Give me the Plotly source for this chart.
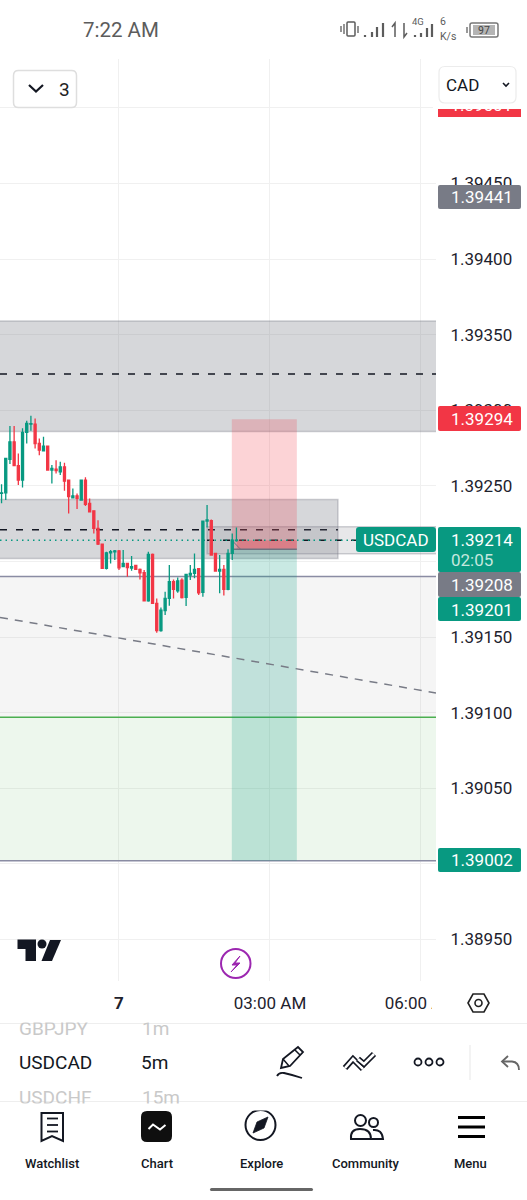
import re
import pandas as pd
import plotly.graph_objects as go

W, H = 527, 1200
GREEN, RED, GRAY, INK = "#089981", "#f23645", "#787b86", "#131722"
FONT = "Roboto"

# USDCAD 5m candles, index 0 is the 00:00 bar of the 7th
first_bar = -28
opens = [1.392450,1.392454,1.392675,1.392791,1.392633,1.392538,1.392853,1.392908,1.392908,1.392780,
         1.392732,1.392763,1.392604,1.392611,1.392593,1.392626,1.392538,1.392421,1.392434,1.392406,
         1.392538,1.392384,1.392335,1.392218,1.392115,1.391954,1.392057,1.392064,1.392070,1.391965,
         1.391987,1.391956,1.391974,1.391947,1.391925,1.391740,1.392047,1.391722,1.391542,1.391674,
         1.391755,1.391866,1.391806,1.391877,1.391762,1.391910,1.391921,1.391952,1.391795,1.392267,
         1.392269,1.392053,1.391936,1.391947,1.391815,1.392053,1.392137]
highs = [1.392511,1.392681,1.392895,1.392895,1.392714,1.392880,1.392930,1.392963,1.392946,1.392813,
         1.392824,1.392763,1.392637,1.392670,1.392659,1.392653,1.392538,1.392483,1.392450,1.392538,
         1.392556,1.392417,1.392335,1.392273,1.392115,1.392064,1.392075,1.392075,1.392075,1.392075,
         1.391987,1.392036,1.391974,1.391954,1.391943,1.392064,1.392053,1.391755,1.391696,1.391800,
         1.391976,1.391881,1.391894,1.391888,1.391914,1.391976,1.392053,1.391952,1.392267,1.392373,
         1.392278,1.392053,1.392042,1.391976,1.392080,1.392185,1.392225]
lows = [1.392384,1.392406,1.392644,1.392633,1.392505,1.392489,1.392780,1.392864,1.392747,1.392703,
        1.392732,1.392600,1.392516,1.392582,1.392571,1.392467,1.392317,1.392417,1.392346,1.392406,
        1.392366,1.392324,1.392185,1.392108,1.391954,1.391947,1.391987,1.392009,1.391943,1.391965,
        1.391899,1.391938,1.391943,1.391881,1.391740,1.391733,1.391718,1.391528,1.391535,1.391645,
        1.391707,1.391755,1.391793,1.391755,1.391705,1.391877,1.391888,1.391778,1.391767,1.392225,
        1.392038,1.391936,1.391789,1.391775,1.391810,1.392009,1.392130]
closes = [1.392454,1.392681,1.392791,1.392633,1.392538,1.392853,1.392913,1.392912,1.392780,1.392736,
          1.392763,1.392604,1.392615,1.392600,1.392626,1.392531,1.392428,1.392434,1.392417,1.392538,
          1.392377,1.392328,1.392218,1.392115,1.391954,1.392057,1.392064,1.392070,1.391958,1.391987,
          1.391960,1.391965,1.391947,1.391925,1.391740,1.392047,1.391722,1.391542,1.391678,1.391755,
          1.391866,1.391815,1.391872,1.391760,1.391914,1.391921,1.391947,1.391793,1.392267,1.392274,
          1.392042,1.391936,1.391947,1.391815,1.392053,1.392141,1.392140]

price_ticks = [1.38950, 1.39000, 1.39050, 1.39100, 1.39150, 1.39200, 1.39250,
               1.39300, 1.39350, 1.39400, 1.39450, 1.39500]
# These levels keep their grid line, their label sits behind a price tag
tag_covered_ticks = [1.39000, 1.39200, 1.39500]
time_tick_bars = [0, 36, 72]
time_tick_text = ["<b>7</b>", "03:00 AM", "06:00 AM"]

# Drawn levels
upper_zone = (1.39286, 1.39359, 1.39324)
middle_zone = (1.39202, 1.39241, 1.39221)
inner_zone = (1.39205, 1.39223, 1.39214)
stop_price, entry_price, target_price = 1.39294, 1.39208, 1.39002
last_price = 1.39214
range_line, support_line = 1.39190, 1.39097
trend_prices = (1.39163, 1.39113)
alert_price = 1.39441
top_label_price = 1.39502

# Axis windows
bar_window = (-28.37, 75.58)
price_window = (1.389225, 1.395323)
PLOT_L, PLOT_R, PLOT_T, PLOT_B = 0, 436, 59, 981

base = pd.Timestamp("2024-10-07 00:00")
def t(i):
    return (base + pd.Timedelta(minutes=5 * i)).strftime("%Y-%m-%d %H:%M:%S.%f")

bars = list(range(first_bar, first_bar + len(opens)))
shapes, notes = [], []

def px(x): return x / W
def py(y): return 1 - y / H

def pixel_path(d):
    """Turn a path written in page pixels into paper coordinates."""
    parts = re.findall(r"[MLQCZ]|-?\d+\.?\d*", d)
    out, is_x = [], True
    for p in parts:
        if p in "MLQCZ":
            out.append(p)
            is_x = True
        else:
            out.append(f"{px(float(p)):.5f}" if is_x else f"{py(float(p)):.5f}")
            is_x = not is_x
    return " ".join(out)

def path(d, fill="rgba(0,0,0,0)", line=INK, width=2, layer="above"):
    shapes.append(dict(type="path", xref="paper", yref="paper", path=pixel_path(d),
                       fillcolor=fill, line=dict(color=line, width=width), layer=layer))

def box(x0, y0, x1, y1, fill="#ffffff", line="rgba(0,0,0,0)", width=0, layer="above", kind="rect"):
    shapes.append(dict(type=kind, xref="paper", yref="paper", x0=px(x0), x1=px(x1), y0=py(y0), y1=py(y1),
                       fillcolor=fill, line=dict(color=line, width=width), layer=layer))

def rounded(x0, y0, x1, y1, r=3, **kw):
    d = (f"M {x0+r} {y0} L {x1-r} {y0} Q {x1} {y0} {x1} {y0+r} L {x1} {y1-r} Q {x1} {y1} {x1-r} {y1} "
         f"L {x0+r} {y1} Q {x0} {y1} {x0} {y1-r} L {x0} {y0+r} Q {x0} {y0} {x0+r} {y0} Z")
    path(d, **kw)

def text(s, x, y, size=13, color=INK, anchor="left", weight=400):
    notes.append(dict(text=s, xref="paper", yref="paper", x=px(x), y=py(y), xanchor=anchor, yanchor="middle",
                      showarrow=False, align=anchor, borderpad=0, font=dict(family=FONT, size=size, color=color, weight=weight)))

def zone(i0, i1, p0, p1, fill, line=None):
    shapes.append(dict(type="rect", xref="x", yref="y", x0=t(i0), x1=t(i1), y0=p0, y1=p1, fillcolor=fill,
                       line=dict(color=line or "rgba(0,0,0,0)", width=1.5 if line else 0), layer="between"))

def level(i0, i1, p0, p1, color, width=1.5, dash="solid"):
    shapes.append(dict(type="line", xref="x", yref="y", x0=t(i0), x1=t(i1), y0=p0, y1=p1,
                       line=dict(color=color, width=width, dash=dash), layer="between"))

left, right = bar_window
off_left, off_right = left - 3, right + 3   # box edges run past the pane and get clipped
zone_fill = "rgba(120,123,134,0.30)"
zone_edge = "rgba(120,123,134,0.35)"

# Range backgrounds
zone(left, right, support_line, range_line, "rgba(128,128,128,0.08)")
zone(left, right, target_price, support_line, "rgba(76,175,80,0.10)")
level(left, right, range_line, range_line, "#8a8ca3")
level(left, right, support_line, support_line, "#4caf50")
level(left, right, target_price, target_price, "#8a8ca3")

# Supply and demand boxes
zone(off_left, off_right, upper_zone[0], upper_zone[1], zone_fill, zone_edge)
level(left, right, upper_zone[2], upper_zone[2], "#131722", 1.5, "7px,9px")
zone(off_left, 52.2, middle_zone[0], middle_zone[1], zone_fill, zone_edge)
level(left, 52.2, middle_zone[2], middle_zone[2], "#131722", 1.5, "7px,9px")
zone(21, off_right, inner_zone[0], inner_zone[1], "rgba(120,123,134,0.18)", zone_edge)
level(21, 56.5, inner_zone[2], inner_zone[2], "#131722", 1.5, "7px,9px")

# Short position tool
zone(26.9, 42.4, entry_price, stop_price, "rgba(242,54,69,0.22)")
zone(26.9, 42.4, target_price, entry_price, "rgba(8,153,129,0.22)")
zone(28.1, 42.4, entry_price, last_price, "rgba(242,54,69,0.35)")
level(26.9, 42.4, entry_price, entry_price, "#6f7280", 1.5)
level(26.9, 29, last_price, entry_price, "#6f7280", 1)

# Trend line and last price
level(left, right, trend_prices[0], trend_prices[1], GRAY, 1.5, "8px,7px")
level(left, 56.5, last_price, last_price, GREEN, 1.5, "1.5px,4px")

# Clipped scale label at the top, under the currency selector
box(438, 93, 521, 117, fill=RED, layer="below")
box(433, 59.5, 527, 109)

# Time scale corner covering the end of the last time label
box(432, 983, 527, 1021)

# Price scale labels
def price_tag(x_text_lines, y0, y1, fill):
    rounded(438, y0, 521, y1, r=2, fill=fill, line=fill, width=0)
    for s, y, c in x_text_lines:
        text(s, 449.5, y, 17, c)

price_tag([(f"{alert_price:.5f}", 197, "#ffffff")], 185, 209, GRAY)
price_tag([(f"{stop_price:.5f}", 419, "#ffffff")], 406, 431, RED)
price_tag([(f"{last_price:.5f}", 540, "#ffffff"), ("02:05", 560, "#c4e8df")], 527, 572, GREEN)
price_tag([(f"{entry_price:.5f}", 585, "#ffffff")], 572, 597, GRAY)
price_tag([("1.39201", 610, "#ffffff")], 597, 621, GREEN)
price_tag([(f"{target_price:.5f}", 860, "#ffffff")], 848, 872, GREEN)
rounded(356, 527, 436, 552, r=3, fill=GREEN, line=GREEN, width=0)
text("USDCAD", 396, 540, 17, "#ffffff", "center")

# Status bar
text("7:22 AM", 82, 30, 20.5, "#5c5c5c")
sb = "#5c5c5c"
rounded(347, 22, 355, 36, r=1, line=sb, width=1.5)
for x, y0, y1 in [(341, 26, 32), (344, 24, 34), (358, 26, 33)]:
    path(f"M {x} {y0} L {x} {y1}", line=sb, width=1.3)
for x, top in [(365, 35), (372, 32), (377, 27), (383, 23)]:
    path(f"M {x} {top} L {x} 37", line=sb, width=2.2)
path("M 395 37 L 395 23 L 392 27", line=sb, width=1.5)
path("M 404 23 L 404 37 L 407 33", line=sb, width=1.5)
text("4G", 411, 22, 9.5, sb)
for x, top in [(415, 35), (421, 33), (427, 28), (432, 24)]:
    path(f"M {x} {top} L {x} 37", line=sb, width=2.2)
text("6", 439, 22, 10.5, sb)
text("K/s", 439, 36.5, 10.5, sb)
rounded(470, 23, 498, 37, r=2, line="#777777", width=1.5)
box(473, 25, 495, 35, fill="#b4b4b4")
path("M 467 27 L 467 33", line="#777777", width=1.5)
text("97", 484, 30, 10.5, "#444444", "center")

# Indicator toggle
rounded(13.5, 70.5, 76.5, 107.5, r=5, fill="#ffffff", line="#dedede", width=1.5)
path("M 29 85 L 36 91.5 L 43 85", line=INK, width=2.2)
text("3", 64, 89, 19, "#222222", "center")

# Currency selector
rounded(439, 66.5, 516, 103, r=6, fill="#ffffff", line="#ececec", width=1.2)
text("CAD", 445, 85, 17, INK)
path("M 503 83 L 506 86 L 509 83", line=INK, width=1.6)

# Brand mark and sparkle button
path("M 17.5 939.5 L 36 939.5 L 36 961 L 25.5 961 L 25.5 949 L 17.5 949 Z", fill=INK, line=INK, width=0)
box(37.5, 939.5, 46.5, 948.5, fill=INK, kind="circle")
path("M 50 940 L 61 940 L 52 961 L 41.5 961 Z", fill=INK, line=INK, width=0)
box(221, 949, 250.5, 978, fill="rgba(0,0,0,0)", line="#9c27b0", width=2, kind="circle")
path("M 240 956 L 232 965 L 237 965 L 231 972 L 240 963 L 235 963 Z", fill="#9c27b0", line="#9c27b0", width=1)

# Time scale settings hexagon
path("M 468 1003 L 473 994 L 484 994 L 489 1003 L 484 1012 L 473 1012 Z", line="#222222", width=1.6)
box(475, 999.5, 482, 1006.5, fill="rgba(0,0,0,0)", line="#222222", width=1.6, kind="circle")

# Symbol row
text("GBPJPY", 18, 1028, 19, "#c9c9c9")
text("1m", 141, 1028, 19, "#c9c9c9")
text("USDCHF", 18, 1097, 19, "#c9c9c9")
text("15m", 141, 1097, 19, "#c9c9c9")
notes.append(dict(text=" ", xref="paper", yref="paper", x=0, y=py(1022.5), xanchor="left", yanchor="bottom",
                  showarrow=False, width=W, height=8, bgcolor="#ffffff", borderpad=0))
notes.append(dict(text=" ", xref="paper", yref="paper", x=0, y=py(1102.5), xanchor="left", yanchor="top",
                  showarrow=False, width=W, height=6, bgcolor="#ffffff", borderpad=0))
box(0, 1023, W, 1024, fill="#eeeeee")
box(0, 1101, W, 1102, fill="#eeeeee")
text("USDCAD", 18, 1062, 19, INK)
text("5m", 140, 1062, 19, INK)

# Drawing toolbar
path("M 281 1068 L 283 1059 L 298 1047 L 303 1052 L 290 1066 Z", line=INK, width=1.8)
path("M 295 1050 L 300 1055 M 283 1059 L 289 1066", line=INK, width=1.5)
path("M 277 1076 Q 279 1072 284 1073 Q 293 1075 302 1078", line=INK, width=1.8)
for d in ("M 345 1068 L 353 1059 L 363 1069", "M 358 1059 L 364 1064 L 374 1054"):
    path(d, line=INK, width=6)
    path(d, line="#ffffff", width=2.6)
for x in (418, 429, 440):
    box(x - 3.5, 1058.5, x + 3.5, 1065.5, fill="rgba(0,0,0,0)", line=INK, width=1.8, kind="circle")
box(469.5, 1045, 470.5, 1080, fill="#e8e8e8")
path("M 508 1056 L 502 1061.5 L 508 1067", line="#666666", width=1.8)
path("M 502 1061.5 L 512 1061.5 Q 519 1062 519 1070", line="#666666", width=1.8)

# Bottom navigation
path("M 41.5 1113 L 63 1113 L 63 1141 L 52 1136 L 41.5 1141 Z", line=INK, width=2)
for y in (1118.5, 1125, 1131.5):
    path(f"M 47 {y} L 58 {y}", line=INK, width=1.8)
rounded(141, 1111, 172, 1142, r=6, fill="#0f0f0f", line="#0f0f0f", width=0)
path("M 148.5 1129 L 153 1124.5 L 160 1129.5 L 165.5 1125", line="#ffffff", width=2)
box(245.5, 1110, 275.5, 1140, fill="rgba(0,0,0,0)", line=INK, width=2, kind="circle")
path("M 268 1117 L 264 1128 L 253 1133 L 257 1122 Z", fill=INK, line=INK, width=0.8)
box(355, 1115, 366, 1126, fill="rgba(0,0,0,0)", line=INK, width=2, kind="circle")
box(369, 1118, 378, 1127, fill="rgba(0,0,0,0)", line=INK, width=2, kind="circle")
path("M 351 1139 Q 350 1129 360 1129 Q 371 1129 371 1139 Z", line=INK, width=2)
path("M 373 1130 Q 382 1129 383 1139 L 372 1139", line=INK, width=2)
for y in (1117.5, 1127, 1136.5):
    path(f"M 458 {y} L 485 {y}", line="#000000", width=3)
for label, x in [("Watchlist", 52), ("Chart", 156.5), ("Explore", 261), ("Community", 365.5), ("Menu", 470)]:
    text(label, x, 1163, 13, INK, "center", 500)
rounded(210, 1188, 313, 1191, r=1.5, fill="#666666", line="#666666", width=0)

fig = go.Figure()
fig.add_trace(go.Candlestick(
    x=[t(i) for i in bars], open=opens, high=highs, low=lows, close=closes,
    increasing=dict(line=dict(color=GREEN, width=1.3), fillcolor=GREEN),
    decreasing=dict(line=dict(color=RED, width=1.3), fillcolor=RED),
    whiskerwidth=0, showlegend=False, hoverinfo="skip",
))
# Carries the second scale that holds the clipped top label
fig.add_trace(go.Scatter(x=[t(0)], y=[top_label_price], yaxis="y2", mode="markers",
                         marker=dict(opacity=0), showlegend=False, hoverinfo="skip"))

tick_font = dict(family=FONT, size=17, color="#1e222d")
fig.update_layout(
    width=W, height=H, margin=dict(l=0, r=0, t=0, b=0, autoexpand=False),
    paper_bgcolor="#ffffff", plot_bgcolor="rgba(0,0,0,0)",
    showlegend=False, shapes=shapes, annotations=notes,
    xaxis=dict(
        domain=[PLOT_L / W, PLOT_R / W], range=[t(left), t(right)], type="date", rangeslider=dict(visible=False),
        tickmode="array", tickvals=[t(i) for i in time_tick_bars], ticktext=time_tick_text,
        ticks="outside", ticklen=7, tickcolor="rgba(0,0,0,0)", tickfont=tick_font,
        showgrid=True, gridcolor="#f0f0f0", gridwidth=1, zeroline=False, showline=False,
    ),
    yaxis=dict(
        domain=[1 - PLOT_B / H, 1 - PLOT_T / H], range=list(price_window), side="right",
        tickmode="array", tickvals=price_ticks,
        ticktext=["" if v in tag_covered_ticks else f"{v:.5f}" for v in price_ticks],
        ticks="outside", ticklen=10, tickcolor="rgba(0,0,0,0)", tickfont=tick_font,
        showgrid=True, gridcolor="#f0f0f0", gridwidth=1, zeroline=False, showline=False,
    ),
    yaxis2=dict(
        overlaying="y", side="right", range=list(price_window), tickmode="array",
        tickvals=[top_label_price], ticktext=["1.39501"], ticks="outside", ticklen=10,
        tickcolor="rgba(0,0,0,0)", tickfont=dict(family=FONT, size=17, color="#ffffff"),
        showgrid=False, zeroline=False, showline=False,
    ),
)
fig.write_html("out.html", config=dict(displayModeBar=False))
